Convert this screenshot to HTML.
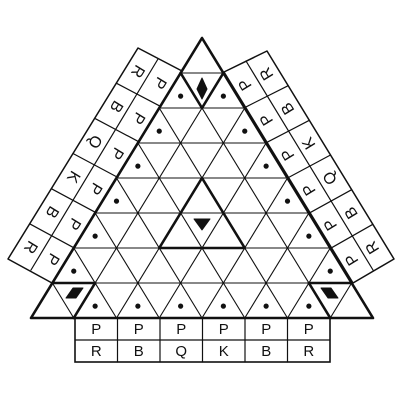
<!DOCTYPE html>
<html><head><meta charset="utf-8"><style>
html,body{margin:0;padding:0;background:#fff;width:400px;height:400px;overflow:hidden}
svg text{font-family:"Liberation Sans",sans-serif;font-size:15px;fill:#111}
svg text.side{font-size:16px}
</style></head><body>
<svg id="board" width="400" height="400" viewBox="0 0 400 400" xmlns="http://www.w3.org/2000/svg"></svg>
<script>
const bottomBack = ['R','B','Q','K','B','R'];
const bottomPawns = ['P','P','P','P','P','P'];
const leftBack = ['R','B','Q','K','B','R'];
const rightBack = ['R','B','K','Q','B','R'];
const sidePawns = ['P','P','P','P','P','P'];

const svg = document.getElementById('board');
const NS = 'http://www.w3.org/2000/svg';
const AX = 202, AY = 38, W = 42.75, H = 35;
function P(r,k){ return [AX + (k - r/2)*W, AY + H*r]; }
function mk(tag, attrs, name){
  const e = document.createElementNS(NS, tag);
  for (const a in attrs) e.setAttribute(a, attrs[a]);
  
  
  svg.appendChild(e); return e;
}
function line(a,b,w,name){ mk('line',{x1:a[0],y1:a[1],x2:b[0],y2:b[1],stroke:'#111','stroke-width':w,'stroke-linecap':'round'},name); }
for (let j=1;j<=7;j++){
  line(P(j,0),P(j,j),1.1,'grid-row-line');
  line(P(j,0),P(8,8-j),1.1,'grid-diag-line');
  line(P(j,j),P(8,j),1.1,'grid-diag-line');
}
function dot(r,k){ const a=P(r,k); mk('circle',{cx:a[0],cy:a[1]+H*0.66,r:2.6,fill:'#111'},'pawn-dot'); }
for (let r=1;r<=6;r++){ dot(r,0); dot(r,r); }
for (let k=1;k<=6;k++) dot(7,k);
function poly(pts,w,name,fill){ mk('polygon',{points:pts.map(p=>p.join(',')).join(' '),fill:fill||'none',stroke:'#111','stroke-width':w,'stroke-linejoin':'round'},name); }
poly([P(0,0),P(8,0),P(8,8)],2.6,'outer-triangle');
poly([P(4,2),P(6,2),P(6,4)],2.6,'center-triangle');
line(P(1,0),P(2,1),2.6,'top-zone-line'); line(P(2,1),P(1,1),2.6,'top-zone-line');
line(P(7,0),P(7,1),2.6,'left-zone-line'); line(P(7,1),P(8,1),2.6,'left-zone-line');
line(P(7,7),P(7,6),2.6,'right-zone-line'); line(P(7,6),P(8,7),2.6,'right-zone-line');
poly([[202,78],[207,89],[202,99],[197,89]],1,'top-diamond','#111');
poly([[66,298],[73,288],[83,288],[76,298]],1,'left-diamond','#111');
poly([[321,288],[331,288],[338,298],[328,298]],1,'right-diamond','#111');
poly([[194,219],[210,219],[202,230]],1,'center-marker','#111');
const bx0=75, bx1=330, by=[318,340,362];
const bw=(bx1-bx0)/6;
mk('rect',{x:bx0,y:by[0],width:bx1-bx0,height:by[2]-by[0],fill:'none',stroke:'#111','stroke-width':1.6},'bottom-panel');
line([bx0,by[1]],[bx1,by[1]],1.2,'bottom-panel-divider');
for (let i=1;i<6;i++) line([bx0+i*bw,by[0]],[bx0+i*bw,by[2]],1.2,'bottom-panel-divider');
for (let i=0;i<6;i++){
  const t1=mk('text',{x:bx0+(i+0.5)*bw,y:by[0]+16,'text-anchor':'middle'},'bottom-pawn-label'); t1.textContent=bottomPawns[i];
  const t2=mk('text',{x:bx0+(i+0.5)*bw,y:by[1]+16,'text-anchor':'middle'},'bottom-piece-label'); t2.textContent=bottomBack[i];
}
function side(innerTop,midTop,outerTop,innerBot,midBot,outerBot,pawns,back,rot,name){
  function lerp(a,b,t){return [a[0]+(b[0]-a[0])*t,a[1]+(b[1]-a[1])*t];}
  function pt(col,t){
    const tops=[innerTop,midTop,outerTop], bots=[innerBot,midBot,outerBot];
    return lerp(tops[col],bots[col],t);
  }
  poly([innerTop,outerTop,outerBot,innerBot],1.5,name);
  line(midTop,midBot,1.2,name+'-divider');
  for (let i=1;i<6;i++) line(pt(0,i/6),pt(2,i/6),1.2,name+'-divider');
  for (let i=0;i<6;i++){
    const t=(i+0.5)/6;
    const a=lerp(pt(0,t),pt(1,t),0.5), b=lerp(pt(1,t),pt(2,t),0.5);
    const e1=mk('text',{class:'side',x:a[0],y:a[1],'text-anchor':'middle','dominant-baseline':'central',transform:`rotate(${rot} ${a[0]} ${a[1]})`},name+'-pawn-label'); e1.textContent=pawns[i];
    const e2=mk('text',{class:'side',x:b[0],y:b[1],'text-anchor':'middle','dominant-baseline':'central',transform:`rotate(${rot} ${b[0]} ${b[1]})`},name+'-piece-label'); e2.textContent=back[i];
  }
}
side([182,71],[158,59],[138,48],[52,283],[31,270],[8,259],sidePawns,leftBack,121.5,'left-panel');
side([224,72],[246,61],[267,51],[353,283],[373,270],[394,259],sidePawns,rightBack,-121.5,'right-panel');
</script>
</body></html>
